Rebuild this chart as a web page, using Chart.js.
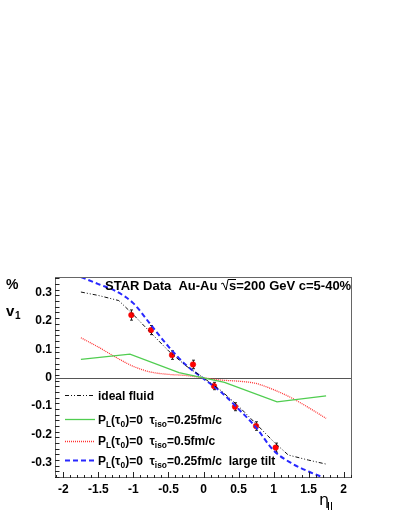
<!DOCTYPE html>
<html>
<head>
<meta charset="UTF-8">
<title>v1 vs eta</title>
<script src="https://cdn.jsdelivr.net/npm/chart.js"></script>
<style>
  body { margin: 0; background: #fff; }
  canvas { display: block; }
</style>
</head>
<body>
<canvas id="chart" width="399" height="516"></canvas>
<script>
// STAR data points
const starX = [-1.03, -0.75, -0.45, -0.15, 0.15, 0.45, 0.75, 1.03];
const starY = [0.221, 0.168, 0.080, 0.047, -0.029, -0.102, -0.170, -0.246];
const starErr = [0.018, 0.016, 0.015, 0.015, 0.013, 0.014, 0.015, 0.016];

// ideal fluid
const idealX = [-1.75, -1.5, -1.21, -1.0, -0.75, -0.5, -0.25, 0, 0.25, 0.5, 0.75, 1.0, 1.21, 1.5, 1.75];
const idealY = [0.302, 0.290, 0.272, 0.222, 0.158, 0.095, 0.042, 0.0, -0.045, -0.100, -0.162, -0.225, -0.272, -0.290, -0.304];

// P_L=0, tau_iso=0.25
const greenX = [-1.75, -1.05, -0.35, 0, 0.3, 1.05, 1.75];
const greenY = [0.065, 0.083, 0.018, 0.0, -0.016, -0.085, -0.064];

// P_L=0, tau_iso=0.5
const redX = [-1.75, -1.5, -1.25, -1.0, -0.75, -0.5, -0.25, 0, 0.25, 0.5, 0.75, 1.0, 1.25, 1.5, 1.75];
const redY = [0.141, 0.108, 0.072, 0.040, 0.020, 0.012, 0.008, 0.0, -0.008, -0.012, -0.020, -0.042, -0.070, -0.105, -0.143];

// large tilt
const blueX = [-1.75, -1.5, -1.25, -1.0, -0.75, -0.5, -0.25, 0, 0.25, 0.5, 0.75, 1.0, 1.25, 1.5, 1.75];
const blueY = [0.355, 0.330, 0.305, 0.262, 0.186, 0.110, 0.045, -0.003, -0.050, -0.110, -0.175, -0.256, -0.300, -0.330, -0.355];

const xTicks = [-2, -1.5, -1, -0.5, 0, 0.5, 1, 1.5, 2];
const yTicks = [-0.3, -0.2, -0.1, 0, 0.1, 0.2, 0.3];

const pts = (xs, ys) => xs.map((x, i) => ({ x: x, y: ys[i] }));

const FONT = '"Liberation Sans", Arial, sans-serif';
const GREEN = 'rgb(80,205,80)';
const RED = 'rgb(255,50,50)';
const BLUE = 'rgb(40,40,255)';

const lineStyles = {
  ideal: { color: '#111', width: 1, dash: [4, 2, 1, 2, 1, 2], smooth: false },
  green: { color: GREEN, width: 1.3, dash: [], smooth: false },
  red:   { color: RED,   width: 1.3, dash: [1, 1], smooth: true },
  blue:  { color: BLUE,  width: 2,   dash: [5, 3], smooth: true }
};

// draw text made of pieces, some of them subscripts
function drawRich(ctx, parts, x, y, size) {
  for (const p of parts) {
    const s = p.sub ? size * 0.7 : size;
    ctx.font = 'bold ' + s + 'px ' + FONT;
    ctx.fillText(p.t, x, y + (p.sub ? size * 0.28 : 0));
    x += ctx.measureText(p.t).width;
  }
  return x;
}

const rootStyle = {
  id: 'rootStyle',
  beforeDatasetsDraw(chart) {
    const ctx = chart.ctx, a = chart.chartArea, ys = chart.scales.y;
    ctx.save();
    ctx.strokeStyle = '#555';
    ctx.lineWidth = 1;
    const y0 = Math.round(ys.getPixelForValue(0)) + 0.5;
    ctx.beginPath();
    ctx.moveTo(a.left, y0);
    ctx.lineTo(a.right, y0);
    ctx.stroke();
    ctx.restore();
  },
  beforeDatasetDraw(chart, args) {
    if (args.index !== 4) return;
    const ctx = chart.ctx, xs = chart.scales.x, ys = chart.scales.y;
    ctx.save();
    ctx.strokeStyle = '#222';
    ctx.lineWidth = 1;
    starX.forEach((x, i) => {
      const px = Math.round(xs.getPixelForValue(x)) + 0.5;
      const top = ys.getPixelForValue(starY[i] + starErr[i]);
      const bot = ys.getPixelForValue(starY[i] - starErr[i]);
      ctx.beginPath();
      ctx.moveTo(px, top); ctx.lineTo(px, bot);
      ctx.moveTo(px - 1.5, top); ctx.lineTo(px + 1.5, top);
      ctx.moveTo(px - 1.5, bot); ctx.lineTo(px + 1.5, bot);
      ctx.stroke();
    });
    ctx.restore();
  },
  afterDraw(chart) {
    const ctx = chart.ctx, a = chart.chartArea, xs = chart.scales.x, ys = chart.scales.y;
    ctx.save();

    // frame
    ctx.strokeStyle = '#666';
    ctx.lineWidth = 1;
    ctx.strokeRect(a.left + 0.5, a.top + 0.5, a.right - a.left - 1, a.bottom - a.top - 1);

    // inward ticks
    ctx.strokeStyle = '#222';
    ctx.beginPath();
    for (let k = -35; k <= 35; k += 2) {
      const v = k / 100;
      const py = Math.round(ys.getPixelForValue(v)) + 0.5;
      const len = (k % 10 === 0) ? 9 : 4.5;
      ctx.moveTo(a.left, py); ctx.lineTo(a.left + len, py);
    }
    for (let k = -21; k <= 21; k++) {
      const v = k / 10;
      const px = Math.round(xs.getPixelForValue(v)) + 0.5;
      const len = (k % 5 === 0) ? 6 : 3;
      ctx.moveTo(px, a.bottom); ctx.lineTo(px, a.bottom - len);
    }
    ctx.stroke();

    ctx.fillStyle = '#000';
    ctx.textBaseline = 'alphabetic';
    ctx.textAlign = 'left';

    // title with sqrt(s)
    let x = 105, y = 290;
    ctx.font = 'bold 13px ' + FONT;
    const t1 = 'STAR Data  Au-Au ';
    ctx.fillText(t1, x, y);
    x += ctx.measureText(t1).width;
    // radical sign
    ctx.strokeStyle = '#000';
    ctx.lineWidth = 1;
    ctx.beginPath();
    ctx.moveTo(x, y - 6); ctx.lineTo(x + 2, y - 7);
    ctx.lineTo(x + 5, y); ctx.lineTo(x + 7, y - 10.5);
    ctx.lineTo(x + 15, y - 10.5);
    ctx.stroke();
    x += 8;
    ctx.fillText('s=200 GeV c=5-40%', x, y);

    // y axis label
    ctx.font = 'bold 14px ' + FONT;
    ctx.fillText('%', 6, 289);
    ctx.font = 'bold 15px ' + FONT;
    ctx.fillText('v', 6, 316);
    ctx.font = 'bold 10px ' + FONT;
    ctx.fillText('1', 15, 319);

    // x axis label
    ctx.font = '16px "DejaVu Sans", sans-serif';
    ctx.fillText('\u03b7', 319, 505);
    ctx.lineWidth = 1;
    ctx.beginPath();
    ctx.moveTo(328.5, 502); ctx.lineTo(328.5, 510);
    ctx.moveTo(331.5, 502); ctx.lineTo(331.5, 510);
    ctx.stroke();

    // legend
    const rows = [
      { key: 'ideal', y: 395, parts: [{ t: 'ideal fluid' }] },
      { key: 'green', y: 419, parts: [{ t: 'P' }, { t: 'L', sub: 1 }, { t: '(\u03c4' }, { t: '0', sub: 1 }, { t: ')=0  \u03c4' }, { t: 'iso', sub: 1 }, { t: '=0.25fm/c' }] },
      { key: 'red', y: 440.5, parts: [{ t: 'P' }, { t: 'L', sub: 1 }, { t: '(\u03c4' }, { t: '0', sub: 1 }, { t: ')=0  \u03c4' }, { t: 'iso', sub: 1 }, { t: '=0.5fm/c' }] },
      { key: 'blue', y: 460, parts: [{ t: 'P' }, { t: 'L', sub: 1 }, { t: '(\u03c4' }, { t: '0', sub: 1 }, { t: ')=0  \u03c4' }, { t: 'iso', sub: 1 }, { t: '=0.25fm/c  large tilt' }] }
    ];
    rows.forEach(r => {
      const st = lineStyles[r.key];
      ctx.strokeStyle = st.color;
      ctx.lineWidth = st.width;
      ctx.setLineDash(st.dash);
      ctx.beginPath();
      ctx.moveTo(65, Math.round(r.y) + 0.5);
      ctx.lineTo(95, Math.round(r.y) + 0.5);
      ctx.stroke();
      ctx.setLineDash([]);
      ctx.fillStyle = '#000';
      drawRich(ctx, r.parts, 98, r.y + 4.5, 12);
    });

    ctx.restore();
  }
};

const curve = (key, xs, ys) => ({
  data: pts(xs, ys),
  showLine: true,
  pointRadius: 0,
  borderColor: lineStyles[key].color,
  borderWidth: lineStyles[key].width,
  borderDash: lineStyles[key].dash,
  cubicInterpolationMode: lineStyles[key].smooth ? 'monotone' : 'default',
  tension: 0,
  fill: false
});

new Chart(document.getElementById('chart'), {
  type: 'scatter',
  data: {
    datasets: [
      curve('green', greenX, greenY),
      curve('red', redX, redY),
      curve('ideal', idealX, idealY),
      curve('blue', blueX, blueY),
      {
        data: pts(starX, starY),
        pointRadius: 2.8,
        pointBackgroundColor: 'rgb(255,0,0)',
        pointBorderColor: 'rgb(230,0,0)',
        pointBorderWidth: 0.5,
        showLine: false
      }
    ]
  },
  options: {
    responsive: false,
    animation: false,
    devicePixelRatio: 1,
    layout: { padding: { left: 0, top: 277, right: 47, bottom: 0 } },
    plugins: { legend: { display: false }, tooltip: { enabled: false }, title: { display: false } },
    scales: {
      x: {
        type: 'linear',
        min: -2.12,
        max: 2.12,
        afterBuildTicks: s => { s.ticks = xTicks.map(v => ({ value: v })); },
        afterFit: s => { s.height = 38; },
        grid: { display: false, drawTicks: false },
        border: { display: false },
        ticks: {
          color: '#000',
          padding: 4,
          maxRotation: 0,
          autoSkip: false,
          font: { family: FONT, size: 12, weight: 'bold' },
          callback: v => String(v)
        }
      },
      y: {
        type: 'linear',
        min: -0.353,
        max: 0.355,
        afterBuildTicks: s => { s.ticks = yTicks.map(v => ({ value: v })); },
        afterFit: s => { s.width = 55; },
        grid: { display: false, drawTicks: false },
        border: { display: false },
        ticks: {
          color: '#000',
          padding: 3,
          autoSkip: false,
          font: { family: FONT, size: 12, weight: 'bold' },
          callback: v => String(Math.round(v * 10) / 10)
        }
      }
    }
  },
  plugins: [rootStyle]
});
</script>
</body>
</html>
